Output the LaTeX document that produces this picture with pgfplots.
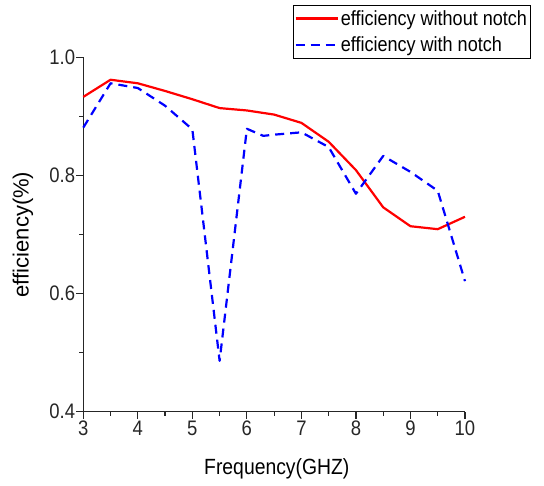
\documentclass[border=0pt]{standalone}
\usepackage{pgfplots}
\pgfplotsset{compat=1.18}
\usepackage{fontspec}
\setmainfont{Liberation Sans}
\newfontfamily\narrow[FakeStretch=0.88]{Liberation Sans}
\begin{document}
\begin{tikzpicture}
\useasboundingbox (-83.3pt,-74.3pt) rectangle (460.7pt,411.7pt);
\begin{axis}[
  scale only axis,
  width=381.7pt, height=354.4pt,
  xmin=3, xmax=10, ymin=0.4, ymax=1.0,
  axis lines*=left,
  axis line style={line width=1.4pt, color=black!85},
  xtick={3,4,5,6,7,8,9,10},
  ytick={0.4,0.6,0.8,1.0},
  minor x tick num=1, minor y tick num=1,
  tick align=outside,
  major tick length=7pt, minor tick length=4pt,
  tick style={line width=1.2pt, color=black!85},
  /pgf/number format/assume math mode=true,
  yticklabel style={/pgf/number format/fixed,/pgf/number format/precision=1,/pgf/number format/fixed zerofill, font=\narrow\fontsize{21}{23}\selectfont, text=black!85, inner sep=1pt},
  xticklabel style={font=\narrow\fontsize{21}{23}\selectfont, text=black!85, inner sep=2pt},
  xlabel={Frequency(GHZ)},
  ylabel={efficiency(\%)},
  xlabel style={font=\narrow\fontsize{22}{24}\selectfont, at={(axis description cs:0.507,-0.1617)}, anchor=center},
  ylabel style={font=\fontsize{22}{24}\selectfont, at={(axis description cs:-0.158,0.5)}, anchor=center},
  legend style={at={(axis description cs:0.5486,1.1476)}, anchor=north west, draw=black, line width=0.8pt, font=\narrow\fontsize{20.5}{23}\selectfont, inner xsep=1.5pt, inner ysep=3pt, row sep=6pt, cells={anchor=west}},
  legend cell align=left,
  legend image code/.code={\draw[#1] (0pt,0pt) -- (42pt,0pt);},
  clip=false,
]
\addplot[red, line width=2.2pt, line join=round] coordinates {
(3,0.933) (3.5,0.962) (4,0.956) (4.5,0.943) (5,0.929) (5.5,0.914) (6,0.910) (6.5,0.903) (7,0.889) (7.5,0.857) (8,0.809) (8.5,0.746) (9,0.714) (9.5,0.709) (10,0.730)
};
\addlegendentry{efficiency without notch}
\addplot[blue, line width=2.2pt, dash pattern=on 9pt off 6pt, line join=round] coordinates {
(3,0.881) (3.5,0.956) (4,0.948) (4.5,0.918) (5,0.878) (5.5,0.486) (6,0.879) (6.3,0.867) (6.5,0.869) (7,0.873) (7.5,0.848) (8,0.769) (8.5,0.833) (9,0.806) (9.5,0.774) (10,0.621)
};
\addlegendentry{efficiency with notch}
\end{axis}
\end{tikzpicture}
\end{document}
